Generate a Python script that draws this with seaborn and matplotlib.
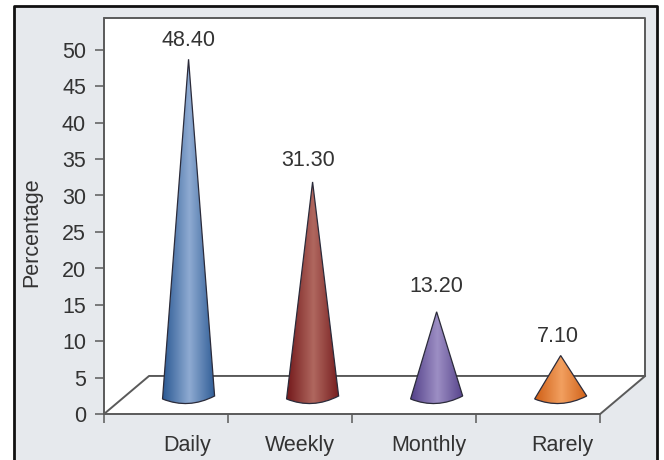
#load libraries
import matplotlib
matplotlib.use('Agg')
import matplotlib.pyplot as plt
import seaborn as sns
import numpy as np
import pandas as pd
from matplotlib.colors import LinearSegmentedColormap
from matplotlib.lines import Line2D
from matplotlib.patches import PathPatch, Polygon, Rectangle
from matplotlib.path import Path

categories = ['Daily', 'Weekly', 'Monthly', 'Rarely']
values = [48.40, 31.30, 13.20, 7.10]
edge_colors = ['#2c5a94', '#741a1c', '#54418a', '#cf5f16']
mid_colors = ['#8fabd2', '#b0685f', '#9d8fc4', '#f2a060']
y_ticks = [0, 5, 10, 15, 20, 25, 30, 35, 40, 45, 50]

W, H = 664, 460
PX_PER_UNIT = 7.28
PX_PER_CAT = 124
AX_L, AX_R, AX_T, AX_B = 104, 600, 18, 414
DEPTH_X = 45 / PX_PER_CAT   # 3d floor depth, in categories
DEPTH_Y = 38 / PX_PER_UNIT  # 3d floor depth, in percent
LINE = '#5a5a5a'
TEXT = '#333333'
FS = 15.5

sns.set_theme(style='white')
plt.rcParams['font.family'] = ['Liberation Sans', 'DejaVu Sans']

#the small extra stops 4.6in rounding down to 459 pixels
fig = plt.figure(figsize=((W + 0.2) / 100, (H + 0.2) / 100), dpi=100, facecolor='white')

#Grey panel with the black frame on three sides, it runs off the bottom of the picture
fig.add_artist(Rectangle((14 / W, 0), 643 / W, 1 - 6 / H, transform=fig.transFigure,
                         facecolor='#e6e9ed', edgecolor='none', zorder=-1))
fig.add_artist(Line2D([14 / W, 14 / W, 657 / W, 657 / W], [0, 1 - 6 / H, 1 - 6 / H, 0],
                      transform=fig.transFigure, color='#111111', linewidth=2, zorder=-0.5))

ax = fig.add_axes([AX_L / W, 1 - AX_B / H, (AX_R - AX_L) / W, (AX_B - AX_T) / H])
ax.patch.set_alpha(0)

df = pd.DataFrame({'category': categories, 'value': values})
sns.barplot(data=df, x='category', y='value', ax=ax, width=0.42, color='white')

ax.set_xlim(-0.5, len(categories) - 0.5)
y_top = (AX_B - AX_T) / PX_PER_UNIT
ax.set_ylim(0, y_top)

#White wall and floor
x0, x1 = -0.5, len(categories) - 0.5
bars = [b for b in ax.patches if isinstance(b, Rectangle)]
ax.add_patch(Polygon([(x0, 0), (x0, y_top), (x1 + DEPTH_X, y_top), (x1 + DEPTH_X, DEPTH_Y), (x1, 0)],
                     closed=True, facecolor='white', edgecolor='none', clip_on=False, zorder=0.5))
line_kw = dict(color=LINE, linewidth=1.4, clip_on=False, zorder=1)
ax.plot([x0, x0 + DEPTH_X, x1 + DEPTH_X, x1], [0, DEPTH_Y, DEPTH_Y, 0], **line_kw)
ax.plot([x0, x1 + DEPTH_X, x1 + DEPTH_X], [y_top, y_top, DEPTH_Y], **line_kw)
ax.plot([x0, x0], [0, y_top], **line_kw)
ax.plot([x0, x1], [0, 0], **line_kw)

#Turn each bar into a shaded cone standing on the floor
for i, bar in enumerate(bars):
    cx = bar.get_x() + bar.get_width() / 2 + DEPTH_X / 2
    hw = bar.get_width() / 2
    tip = 1.03 + bar.get_height() * 0.985
    bar.set_visible(False)

    path = Path([(cx, tip), (cx - hw, 2.06), (cx, 0.62), (cx + hw, 2.47), (cx, tip)],
                [Path.MOVETO, Path.LINETO, Path.CURVE3, Path.CURVE3, Path.CLOSEPOLY])
    cmap = LinearSegmentedColormap.from_list('cone', [edge_colors[i], mid_colors[i], edge_colors[i]])
    img = ax.imshow(np.linspace(0, 1, 128).reshape(1, -1), extent=(cx - hw, cx + hw, 0, tip),
                    aspect='auto', cmap=cmap, zorder=2, interpolation='bilinear')
    outline = PathPatch(path, facecolor='none', edgecolor='#2b2b3a', linewidth=0.9, zorder=3)
    ax.add_patch(outline)
    img.set_clip_path(outline)

    lift = (4.5, 7, 11, 4.6)[i] / PX_PER_UNIT
    ax.text(cx - (0, 4, 0, 3)[i] / PX_PER_CAT, tip + 0.6 + lift, '%.2f' % values[i], ha='center', va='bottom',
            fontsize=FS, color=TEXT)

ax.set_xlim(-0.5, len(categories) - 0.5)
ax.set_ylim(0, y_top)

#Axes, ticks sit on the category boundaries and the names are shifted towards the cones
sns.despine(ax=ax, top=True, right=True, left=True, bottom=True)
ax.set_xticks(np.arange(len(categories) + 1) - 0.5)
ax.set_xticklabels([])
ax.set_yticks(y_ticks)
ax.set_yticklabels([str(t) for t in y_ticks], fontsize=FS, color=TEXT)
ax.tick_params(axis='both', which='major', length=6.5, width=1.1, color=LINE, left=True, bottom=True, pad=6.5)
ax.set_xlabel('')
ax.set_ylabel('Percentage', fontsize=FS, color=TEXT)
ax.yaxis.set_label_coords((42 - AX_L) / (AX_R - AX_L), (AX_B - 232) / (AX_B - AX_T))
for i, name in enumerate(categories):
    nudge = (21, 10, 15, 24)[i] / PX_PER_CAT
    ax.text(i + nudge, -31.5 / PX_PER_UNIT, name, ha='center', va='center', fontsize=FS, color=TEXT)

plt.savefig('out.png', dpi=100)
